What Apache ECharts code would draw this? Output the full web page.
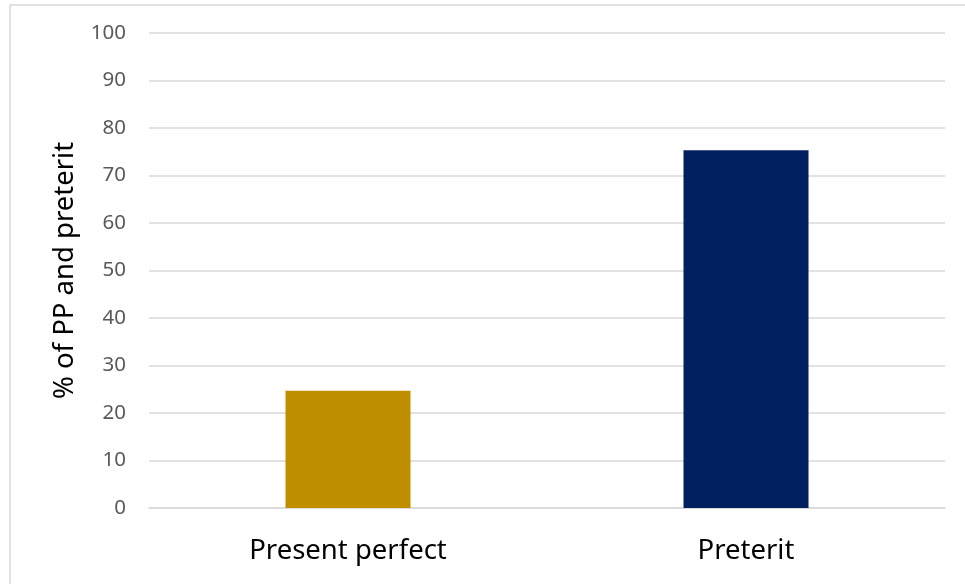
<!DOCTYPE html>
<html>
<head>
<meta charset="utf-8">
<script src="https://cdn.jsdelivr.net/npm/echarts@6/dist/echarts.min.js"></script>
<style>html,body{margin:0;padding:0;background:#fff;}#c{width:965px;height:584px;}</style>
</head>
<body>
<div id="c"></div>
<script>
const categories = ['Present perfect', 'Preterit'];
const values = [24.7, 75.3];
const barColors = ['#BF8F00', '#002060'];
const yAxisTitle = '% of PP and preterit';

const chart = echarts.init(document.getElementById('c'), null, {renderer: 'canvas'});
chart.setOption({
  animation: false,
  backgroundColor: '#fff',
  graphic: [{
    type: 'rect', silent: true,
    shape: {x: 10, y: 5, width: 1200, height: 900},
    style: {fill: 'none', stroke: '#d9d9d9', lineWidth: 1.5}
  }],
  grid: {left: 149, right: 20, top: 33, bottom: 76},
  xAxis: {
    type: 'category',
    data: categories,
    axisLine: {show: true, lineStyle: {color: '#d9d9d9', width: 1.5}},
    axisTick: {show: false},
    axisLabel: {fontFamily: 'Noto Sans', fontSize: 27.5, color: '#000', margin: 29}
  },
  yAxis: {
    type: 'value',
    min: 0, max: 100, interval: 10,
    name: yAxisTitle,
    nameLocation: 'middle',
    nameGap: 70,
    nameTextStyle: {fontFamily: 'Noto Sans', fontSize: 27.5, color: '#000'},
    axisLine: {show: false},
    axisTick: {show: false},
    splitLine: {lineStyle: {color: '#d9d9d9', width: 1.5}},
    axisLabel: {fontFamily: 'Noto Sans', fontSize: 20.5, color: '#595959', margin: 23}
  },
  series: [{
    type: 'bar',
    barWidth: 125,
    data: values.map((v, i) => ({value: v, itemStyle: {color: barColors[i]}}))
  }]
});
</script>
</body>
</html>
